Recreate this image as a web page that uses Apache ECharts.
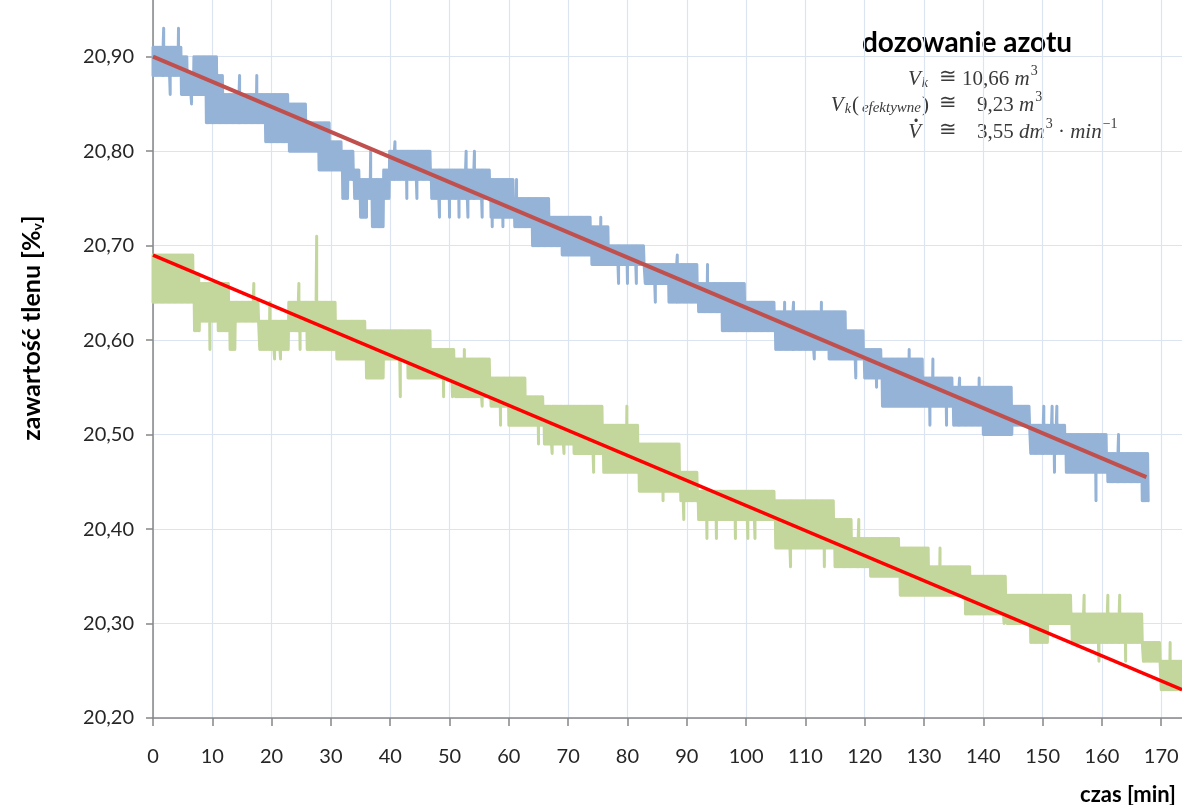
<!DOCTYPE html>
<html><head><meta charset="utf-8">
<script src="https://cdn.jsdelivr.net/npm/echarts/dist/echarts.min.js"></script>
<style>html,body{margin:0;padding:0;background:#fff}#c{width:1182px;height:805px}</style>
</head><body><div id="c"></div>
<script>
// ---- data (per-minute band top / bottom, in % O2) ----
const blueHi = [
 20.91,20.91,20.91,20.91,20.91,20.90,20.88,20.90,20.90,20.90,
 20.90,20.88,20.86,20.86,20.86,20.86,20.86,20.86,20.86,20.86,
 20.86,20.86,20.86,20.85,20.85,20.85,20.83,20.83,20.83,20.83,
 20.81,20.81,20.80,20.80,20.78,20.77,20.77,20.77,20.77,20.78,
 20.80,20.80,20.80,20.80,20.80,20.80,20.80,20.78,20.78,20.78,
 20.78,20.78,20.78,20.78,20.78,20.78,20.78,20.77,20.77,20.77,
 20.77,20.75,20.75,20.75,20.75,20.75,20.75,20.73,20.73,20.73,
 20.73,20.73,20.73,20.73,20.72,20.72,20.72,20.70,20.70,20.70,
 20.70,20.70,20.70,20.68,20.68,20.68,20.68,20.68,20.68,20.68,
 20.68,20.68,20.66,20.66,20.66,20.66,20.66,20.66,20.66,20.66,
 20.64,20.64,20.64,20.64,20.64,20.63,20.63,20.63,20.63,20.63,
 20.63,20.63,20.63,20.63,20.63,20.63,20.63,20.61,20.61,20.61,
 20.59,20.59,20.59,20.58,20.58,20.58,20.58,20.58,20.58,20.58,
 20.56,20.56,20.56,20.56,20.56,20.55,20.55,20.55,20.55,20.55,
 20.55,20.55,20.55,20.55,20.55,20.53,20.53,20.53,20.51,20.51,
 20.51,20.51,20.51,20.51,20.50,20.50,20.50,20.50,20.50,20.50,
 20.50,20.48,20.48,20.48,20.48,20.48,20.48,20.48
];
const blueLo = [
 20.88,20.88,20.88,20.88,20.88,20.86,20.86,20.86,20.86,20.83,
 20.83,20.83,20.83,20.83,20.83,20.83,20.83,20.83,20.83,20.81,
 20.81,20.81,20.81,20.80,20.80,20.80,20.80,20.80,20.78,20.78,
 20.78,20.78,20.75,20.77,20.75,20.73,20.75,20.72,20.72,20.75,
 20.77,20.77,20.77,20.77,20.77,20.77,20.77,20.75,20.75,20.75,
 20.75,20.75,20.75,20.75,20.75,20.75,20.75,20.73,20.73,20.73,
 20.73,20.72,20.72,20.72,20.70,20.70,20.70,20.70,20.70,20.69,
 20.69,20.69,20.69,20.69,20.68,20.68,20.68,20.68,20.68,20.68,
 20.68,20.68,20.68,20.66,20.66,20.66,20.66,20.64,20.64,20.64,
 20.64,20.64,20.63,20.63,20.63,20.63,20.61,20.61,20.61,20.61,
 20.61,20.61,20.61,20.61,20.61,20.59,20.59,20.59,20.59,20.59,
 20.59,20.59,20.59,20.59,20.58,20.58,20.58,20.58,20.58,20.58,
 20.56,20.56,20.56,20.53,20.53,20.53,20.53,20.53,20.53,20.53,
 20.53,20.53,20.53,20.53,20.53,20.51,20.51,20.51,20.51,20.51,
 20.50,20.50,20.50,20.50,20.50,20.51,20.51,20.51,20.48,20.48,
 20.48,20.48,20.48,20.48,20.46,20.46,20.46,20.46,20.46,20.46,
 20.46,20.45,20.45,20.45,20.45,20.45,20.45,20.43
];
const blueSpikes = [
 [1.8,20.93],[2.9,20.86],[4.3,20.93],[4.8,20.86],[6.5,20.85],[14.6,20.88],[17.5,20.88],
 [36.0,20.73],[36.7,20.80],[40.8,20.81],[42.8,20.75],[44.5,20.75],[48.3,20.73],[50.0,20.73],
 [51.6,20.73],[52.8,20.80],[53.1,20.73],[54.2,20.80],[55.5,20.73],[57.2,20.72],[59.0,20.72],
 [61.3,20.77],[75.5,20.73],[78.5,20.66],[80.0,20.66],[81.5,20.66],[84.7,20.64],[88.4,20.69],
 [93.5,20.68],[106.5,20.64],[108.0,20.64],[111.5,20.58],[112.7,20.64],[118.5,20.56],[122.0,20.55],
 [127.5,20.59],[131.0,20.51],[131.5,20.58],[133.8,20.51],[136.0,20.56],[139.3,20.56],[148.2,20.48],
 [150.2,20.53],[151.6,20.53],[152.0,20.46],[152.4,20.53],[159.0,20.43],[162.8,20.50],[166.8,20.43]
];
const greenHi = [
 20.69,20.69,20.69,20.69,20.69,20.69,20.69,20.67,20.66,20.66,
 20.66,20.66,20.66,20.64,20.64,20.64,20.64,20.64,20.62,20.62,
 20.62,20.62,20.62,20.64,20.64,20.64,20.64,20.64,20.64,20.64,
 20.64,20.62,20.62,20.62,20.62,20.62,20.61,20.61,20.61,20.61,
 20.61,20.61,20.61,20.61,20.61,20.61,20.61,20.59,20.59,20.59,
 20.59,20.58,20.58,20.58,20.58,20.58,20.58,20.56,20.56,20.56,
 20.56,20.56,20.56,20.54,20.54,20.54,20.53,20.53,20.53,20.53,
 20.53,20.53,20.53,20.53,20.53,20.53,20.51,20.51,20.51,20.51,
 20.51,20.51,20.49,20.49,20.49,20.49,20.49,20.49,20.49,20.46,
 20.46,20.46,20.44,20.44,20.44,20.44,20.44,20.44,20.44,20.44,
 20.44,20.44,20.44,20.44,20.44,20.43,20.43,20.43,20.43,20.43,
 20.43,20.43,20.43,20.43,20.43,20.41,20.41,20.41,20.39,20.39,
 20.39,20.39,20.39,20.39,20.39,20.39,20.38,20.38,20.38,20.38,
 20.38,20.36,20.36,20.36,20.36,20.36,20.36,20.36,20.35,20.35,
 20.35,20.35,20.35,20.35,20.33,20.33,20.33,20.33,20.33,20.33,
 20.33,20.33,20.33,20.33,20.33,20.31,20.31,20.31,20.31,20.31,
 20.31,20.31,20.31,20.31,20.31,20.31,20.31,20.28,20.28,20.28,
 20.26,20.26,20.26,20.26
];
const greenLo = [
 20.64,20.64,20.64,20.64,20.64,20.64,20.64,20.61,20.62,20.62,
 20.62,20.61,20.61,20.59,20.62,20.62,20.62,20.62,20.59,20.59,
 20.59,20.59,20.59,20.61,20.61,20.61,20.59,20.59,20.59,20.59,
 20.59,20.58,20.58,20.58,20.58,20.58,20.56,20.56,20.56,20.58,
 20.58,20.58,20.58,20.56,20.56,20.56,20.56,20.56,20.56,20.56,
 20.56,20.54,20.54,20.54,20.54,20.54,20.54,20.53,20.53,20.53,
 20.51,20.51,20.51,20.51,20.51,20.51,20.49,20.49,20.49,20.49,
 20.49,20.48,20.48,20.48,20.48,20.48,20.46,20.46,20.46,20.46,
 20.46,20.46,20.44,20.44,20.44,20.44,20.44,20.44,20.44,20.43,
 20.43,20.43,20.41,20.41,20.41,20.41,20.41,20.41,20.41,20.41,
 20.41,20.41,20.41,20.41,20.41,20.38,20.38,20.38,20.38,20.38,
 20.38,20.38,20.38,20.38,20.38,20.36,20.36,20.36,20.36,20.36,
 20.36,20.35,20.35,20.35,20.35,20.35,20.33,20.33,20.33,20.33,
 20.33,20.33,20.33,20.33,20.33,20.33,20.33,20.31,20.31,20.31,
 20.31,20.31,20.31,20.31,20.30,20.30,20.30,20.30,20.28,20.28,
 20.28,20.30,20.30,20.30,20.30,20.28,20.28,20.28,20.28,20.28,
 20.28,20.28,20.28,20.28,20.28,20.28,20.28,20.26,20.26,20.26,
 20.23,20.23,20.23,20.23
];
const greenSpikes = [
 [9.6,20.59],[17.0,20.66],[19.7,20.64],[20.5,20.58],[21.5,20.58],[24.6,20.66],[24.8,20.59],
 [27.6,20.71],[41.7,20.54],[49.0,20.54],[50.5,20.54],[52.5,20.59],[55.5,20.53],[58.6,20.51],
 [65.0,20.49],[67.3,20.48],[69.3,20.48],[74.3,20.46],[79.9,20.53],[86.0,20.43],[89.5,20.41],
 [93.4,20.39],[95.0,20.39],[98.2,20.39],[100.3,20.39],[101.5,20.39],[107.5,20.36],[113.2,20.36],
 [119.0,20.41],[126.0,20.33],[132.7,20.38],[143.5,20.30],[157.0,20.33],[159.5,20.26],[161.0,20.33],
 [163.0,20.33],[164.0,20.26],[171.5,20.28]
];
// linear trend lines (end points)
const blueTrend = [[0, 20.90], [167.5, 20.455]];
const redTrend  = [[0, 20.69], [173.5, 20.23]];
// axes
const xMin = 0, xMax = 173.5, xStep = 10;
const yMin = 20.20, yMax = 20.96, yStep = 0.1;

// each minute is drawn as a dense run of vertical strokes between its read top and bottom
function band(hi, lo, spikes) {
  const pts = [];
  for (let i = 0; i < hi.length; i++) {
    for (let k = 0; k < 10; k++) pts.push([i + k * 0.1, k % 2 === 0 ? hi[i] : lo[i]]);
  }
  spikes.forEach(s => pts.push(s));
  pts.sort((a, b) => a[0] - b[0]);
  return pts;
}

const FONT = 'Lato';
const MATH = 'Liberation Serif';
const INK = '#3a3a3a';
const FS = 21;
const mainTok = {fontFamily: MATH, fontSize: FS, fontStyle: 'italic', fill: INK, lineHeight: 26, verticalAlign: 'bottom'};
const upTok = {fontFamily: MATH, fontSize: FS, fill: INK, lineHeight: 26, verticalAlign: 'bottom'};
const subTok = {fontFamily: MATH, fontSize: 14, fontStyle: 'italic', fill: INK, lineHeight: 14, verticalAlign: 'bottom', padding: [0, 1, 0, 1]};
const sub2Tok = {fontFamily: MATH, fontSize: 15, fontStyle: 'italic', fill: INK, lineHeight: 17, verticalAlign: 'bottom', padding: [0, 1, 0, 3]};
const supTok = {fontFamily: MATH, fontSize: 14, fill: INK, lineHeight: 19, verticalAlign: 'top', padding: [0, 0, 0, 1]};
const rich = {v: mainTok, u: upTok, s: subTok, e: sub2Tok, p: supTok};

const chart = echarts.init(document.getElementById('c'), null, {renderer: 'canvas'});
chart.setOption({
  animation: false,
  backgroundColor: '#fff',
  grid: {left: 153, right: 0, top: 0, bottom: 87, containLabel: false, outerBoundsMode: 'none'},
  xAxis: {
    type: 'value', min: xMin, max: xMax, interval: xStep,
    axisLine: {show: true, onZero: false, lineStyle: {color: '#868686', width: 1.5}},
    axisTick: {show: true, inside: false, length: 8, lineStyle: {color: '#868686', width: 1.5}},
    axisLabel: {showMaxLabel: false, margin: 29, fontFamily: FONT, fontSize: 20, color: '#262626'},
    splitLine: {show: true, showMaxLine: false, lineStyle: {color: '#DCE4F2', width: 1.2}}
  },
  yAxis: {
    type: 'value', min: yMin, max: yMax, interval: yStep,
    axisLine: {show: true, lineStyle: {color: '#868686', width: 1.5}},
    axisTick: {show: true, length: 7, lineStyle: {color: '#868686', width: 1.5}},
    axisLabel: {showMaxLabel: false, margin: 19, fontFamily: FONT, fontSize: 20, color: '#262626',
      formatter: v => v.toFixed(2).replace('.', ',')},
    splitLine: {show: true, showMaxLine: false, lineStyle: {color: '#DCE4F2', width: 1.2}}
  },
  series: [
    {type: 'line', step: 'start', data: band(blueHi, blueLo, blueSpikes), showSymbol: false, symbol: 'none',
     lineStyle: {color: '#95B3D7', width: 3, join: 'round', cap: 'round'}, z: 2},
    {type: 'line', step: 'start', data: band(greenHi, greenLo, greenSpikes), showSymbol: false, symbol: 'none',
     lineStyle: {color: '#C3D69B', width: 3, join: 'round', cap: 'round'}, z: 2},
    {type: 'line', data: blueTrend, showSymbol: false, symbol: 'none',
     lineStyle: {color: '#C0504D', width: 4}, z: 3},
    {type: 'line', data: redTrend, showSymbol: false, symbol: 'none',
     lineStyle: {color: '#FF0000', width: 3.5}, z: 3}
  ],
  graphic: [
    {type: 'text', x: 30, y: 328, rotation: Math.PI / 2,
     style: {text: '{a|zawartość tlenu [%}{b|v}{a|]}', align: 'center', verticalAlign: 'middle',
       rich: {a: {fontFamily: FONT, fontWeight: 'bold', fontSize: 25, fill: '#000', lineHeight: 28, verticalAlign: 'bottom'},
              b: {fontFamily: FONT, fontWeight: 'bold', fontSize: 14, fill: '#000', lineHeight: 14, verticalAlign: 'bottom'}}}},
    {type: 'text', x: 1176, y: 795,
     style: {text: 'czas [min]', align: 'right', verticalAlign: 'middle', fontFamily: FONT, fontWeight: 'bold', fontSize: 22, fill: '#000'}},
    {type: 'text', x: 967, y: 43,
     style: {text: 'dozowanie azotu', align: 'center', verticalAlign: 'middle', fontFamily: FONT, fontWeight: 'bold', fontSize: 28, fill: '#000'}},
    // line 1
    {type: 'text', x: 929, y: 77, style: {text: '{v|V}{s|k}', align: 'right', verticalAlign: 'middle', rich: rich}},
    {type: 'text', x: 948, y: 77, style: {text: '≅', align: 'center', verticalAlign: 'middle', fontFamily: MATH, fontSize: FS, fill: INK}},
    {type: 'text', x: 962, y: 77, style: {text: '{u|10,66 }{v|m}{p|3}', align: 'left', verticalAlign: 'middle', rich: rich}},
    // line 2
    {type: 'text', x: 929, y: 103, style: {text: '{v|V}{s|k}{u|(}{e|efektywne}{u|)}', align: 'right', verticalAlign: 'middle', rich: rich}},
    {type: 'text', x: 948, y: 103, style: {text: '≅', align: 'center', verticalAlign: 'middle', fontFamily: MATH, fontSize: FS, fill: INK}},
    {type: 'text', x: 977, y: 103, style: {text: '{u|9,23 }{v|m}{p|3}', align: 'left', verticalAlign: 'middle', rich: rich}},
    // line 3
    {type: 'text', x: 921, y: 130, style: {text: '{v|V}', align: 'right', verticalAlign: 'middle', rich: rich}},
    {type: 'text', x: 916, y: 122, style: {text: '·', align: 'center', verticalAlign: 'middle', fontFamily: MATH, fontSize: 20, fontWeight: 'bold', fill: INK}},
    {type: 'text', x: 948, y: 130, style: {text: '≅', align: 'center', verticalAlign: 'middle', fontFamily: MATH, fontSize: FS, fill: INK}},
    {type: 'text', x: 977, y: 130, style: {text: '{u|3,55 }{v|dm}{p|3}{u| · }{v|min}{p|−1}', align: 'left', verticalAlign: 'middle', rich: rich}}
  ]
});
</script>
</body></html>
